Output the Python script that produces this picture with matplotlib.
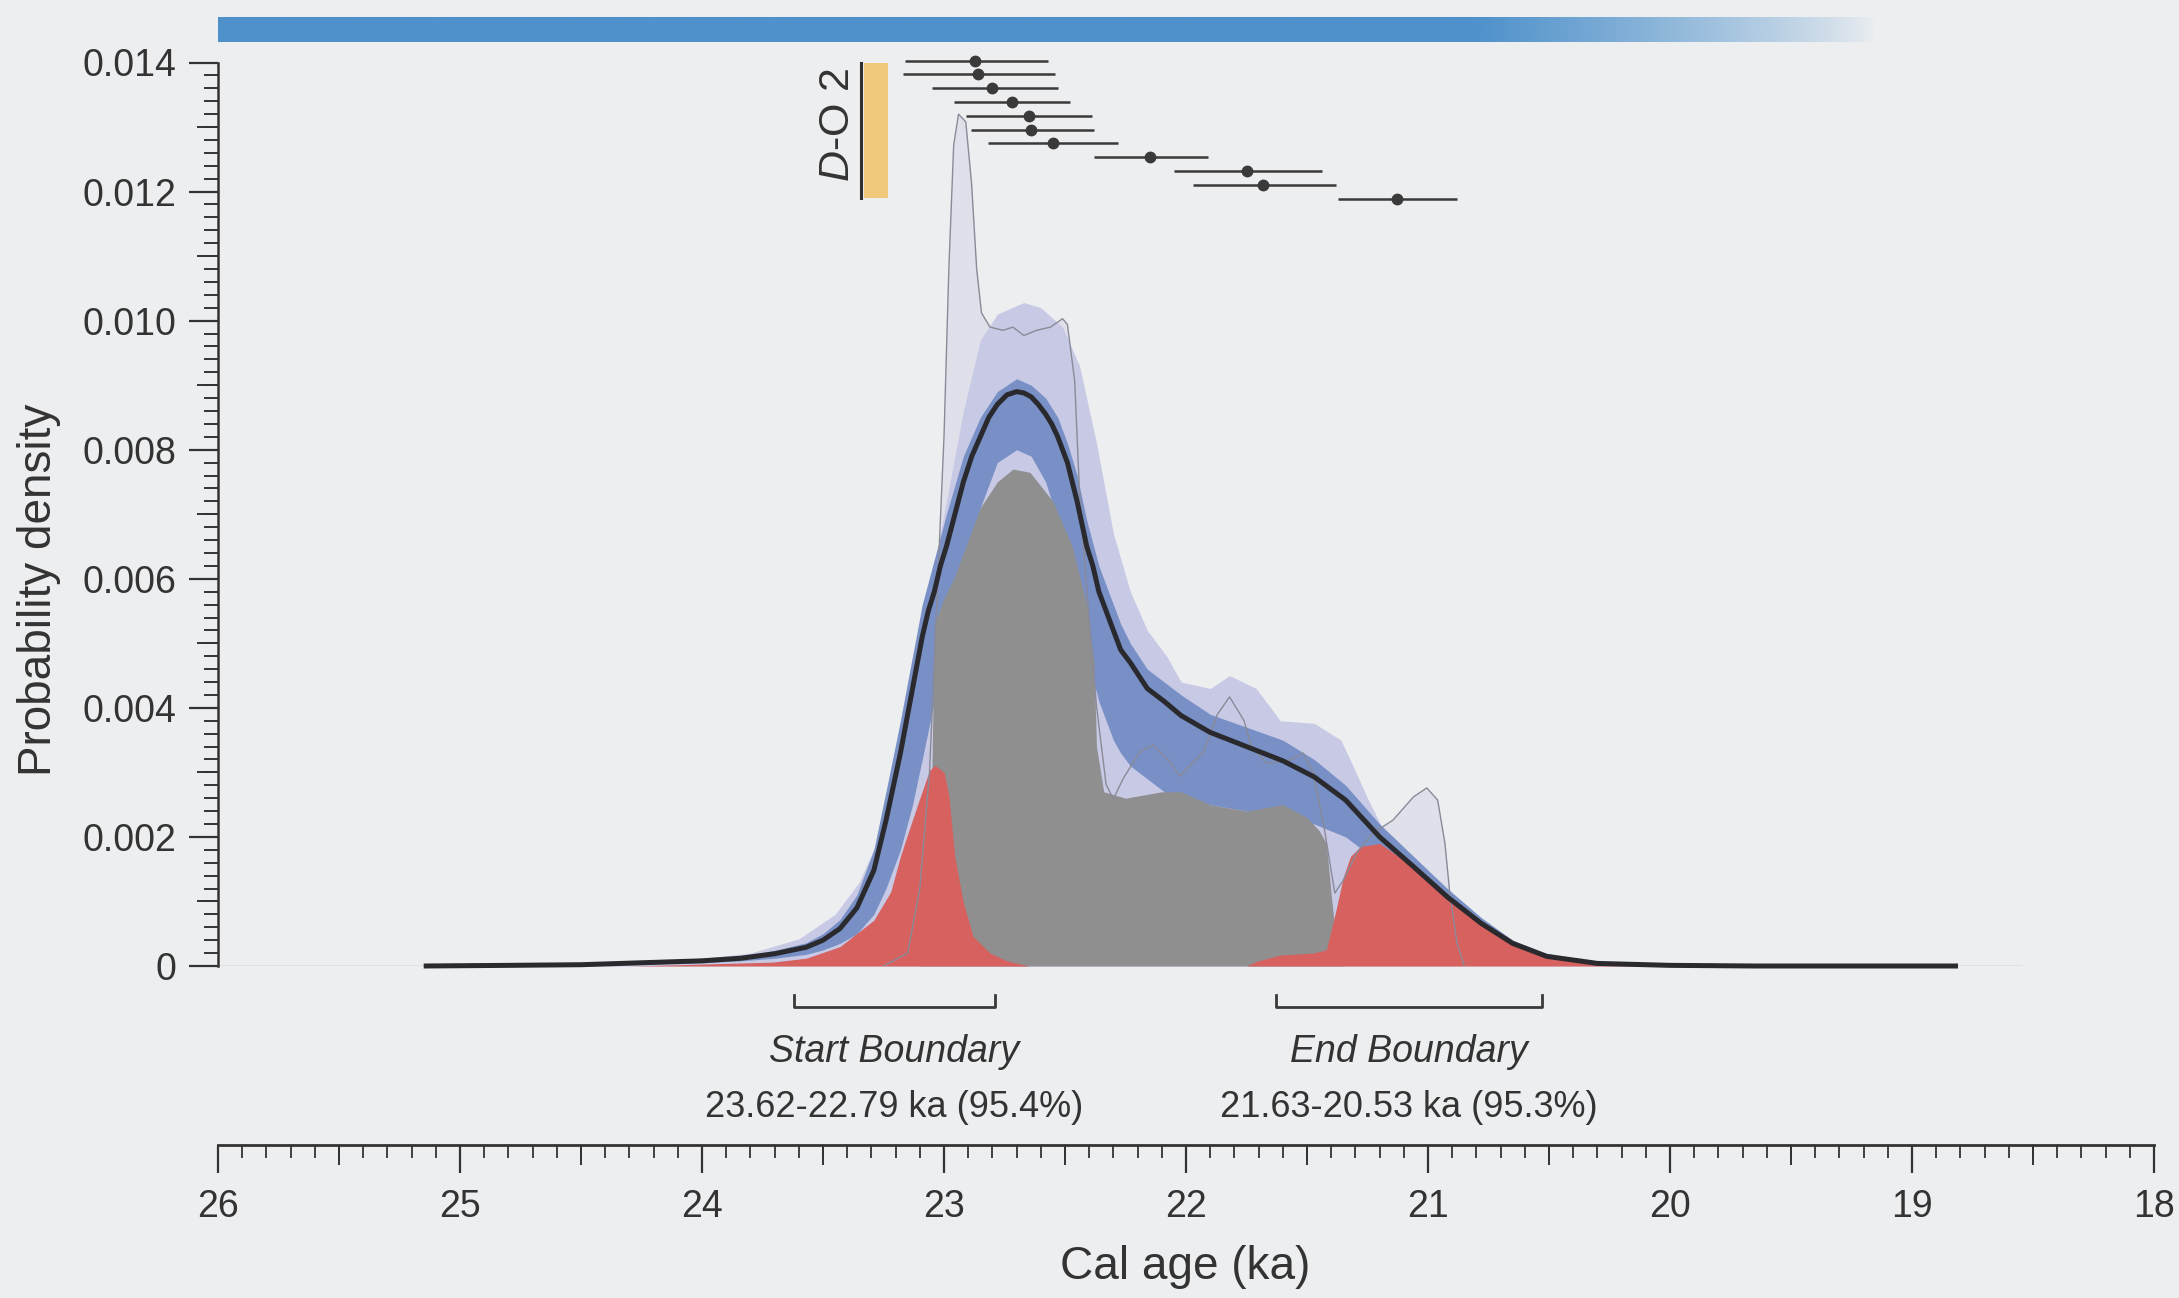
import numpy as np
import matplotlib.pyplot as plt
from matplotlib.colors import to_rgb

plt.rcParams['font.family'] = ['Liberation Sans', 'DejaVu Sans']
plt.rcParams['mathtext.fontset'] = 'custom'
plt.rcParams['mathtext.it'] = 'Liberation Sans:italic'
plt.rcParams['mathtext.rm'] = 'Liberation Sans'

# KDE model: mean curve and 1-sigma band (cal ka BP, probability density)
mean_age = [25.15, 24.8, 24.5, 24.25, 24.0, 23.84, 23.7, 23.57, 23.5, 23.43, 23.36, 23.29,
            23.24, 23.18, 23.13, 23.09, 23.065, 23.04, 23.015, 22.99, 22.955, 22.92, 22.885,
            22.85, 22.815, 22.78, 22.74, 22.70, 22.67, 22.64, 22.61, 22.58, 22.555, 22.53,
            22.51, 22.49, 22.47, 22.45, 22.43, 22.41, 22.385, 22.36, 22.33, 22.30, 22.27,
            22.23, 22.195, 22.16, 22.125, 22.09, 22.02, 21.90, 21.75, 21.60, 21.47, 21.34,
            21.20, 21.06, 20.92, 20.78, 20.65, 20.51, 20.30, 20.0, 19.65, 18.81]
mean_dens = [0, 0.00001, 0.00002, 0.00005, 0.00008, 0.00012, 0.00019, 0.00029, 0.0004,
             0.00058, 0.0009, 0.00148, 0.00225, 0.0033, 0.0043, 0.0051,
             0.0055, 0.0058, 0.0062, 0.0065, 0.0070, 0.0075, 0.0079, 0.0082, 0.0085, 0.0087,
             0.00885, 0.0089, 0.00888, 0.00882, 0.0087, 0.00855, 0.0084, 0.0082, 0.0080,
             0.0078, 0.0075, 0.0072, 0.00685, 0.0065, 0.0062, 0.0058, 0.0055, 0.0052, 0.0049,
             0.0047, 0.0045, 0.0043, 0.0042, 0.0041,
             0.00388, 0.00362, 0.0034, 0.00318, 0.00293, 0.00257, 0.0020, 0.00154, 0.00107,
             0.00066, 0.00035, 0.00015, 0.00004, 0.00001, 0, 0]
band_lo = [0, 0, 0.00001, 0.00003, 0.00005, 0.00008, 0.00012, 0.00018, 0.00025, 0.00035,
           0.0005, 0.0008, 0.0012, 0.0018, 0.0025, 0.0032,
           0.00365, 0.0041, 0.00455, 0.0050, 0.0056, 0.0062, 0.00665, 0.0071, 0.00745, 0.0078,
           0.0079, 0.0080, 0.00795, 0.0079, 0.0077, 0.0075, 0.0072, 0.0069, 0.0066, 0.0063,
           0.00595, 0.0056, 0.0052, 0.0048, 0.00445, 0.0041, 0.0038, 0.0035, 0.0033, 0.0031,
           0.0030, 0.0029, 0.0028, 0.0027,
           0.0026, 0.0025, 0.0024, 0.0023, 0.0022, 0.0020, 0.0016, 0.0012, 0.0008, 0.00048,
           0.00024, 0.0001, 0.00002, 0, 0, 0]
band_hi = [0, 0.00001, 0.00003, 0.00006, 0.0001, 0.00015, 0.00024, 0.00036, 0.0005, 0.00072,
           0.0011, 0.0018, 0.0027, 0.0038, 0.0048, 0.0056,
           0.00595, 0.0063, 0.00665, 0.0070, 0.00745, 0.0079, 0.0082, 0.0085, 0.0087, 0.0089,
           0.0090, 0.0091, 0.00905, 0.0090, 0.0089, 0.0088, 0.00865, 0.0085, 0.0083, 0.0081,
           0.00785, 0.0076, 0.00725, 0.0069, 0.00655, 0.0062, 0.0059, 0.0056, 0.0053, 0.0050,
           0.0048, 0.0046, 0.0045, 0.0044,
           0.0042, 0.0039, 0.0037, 0.0035, 0.0032, 0.0028, 0.0022, 0.0017, 0.0012, 0.00075,
           0.0004, 0.00018, 0.00005, 0.00001, 0, 0]

# 95% envelope (upper edge)
env_age = [25.0, 24.5, 24.0, 23.8, 23.6, 23.45, 23.35, 23.28, 23.22, 23.13, 23.06, 22.99,
           22.92, 22.85, 22.78, 22.72, 22.67, 22.60, 22.51, 22.44, 22.37, 22.30, 22.23,
           22.16, 22.08, 22.02, 21.90, 21.82, 21.71, 21.61, 21.47, 21.36, 21.31, 21.25,
           21.17, 21.06, 20.92, 20.78, 20.65, 20.51, 20.3, 20.0, 19.6]
env_hi = [0, 0.00003, 0.00012, 0.0002, 0.00042, 0.0008, 0.0013, 0.0019, 0.003, 0.0048,
          0.0058, 0.0072, 0.0086, 0.0097, 0.0101, 0.0102, 0.01028, 0.0102, 0.0099, 0.0093,
          0.0081, 0.0067, 0.0058, 0.0052, 0.0048, 0.0044, 0.0043, 0.0045, 0.0043, 0.0038,
          0.00376, 0.0035, 0.0031, 0.0026, 0.0020, 0.00164, 0.00113, 0.00071, 0.0004,
          0.0002, 0.00006, 0.00001, 0]

# summed probability (thin outline)
sum_age = [23.25, 23.15, 23.10, 23.06, 23.03, 23.00, 22.98, 22.96, 22.94, 22.91, 22.886,
           22.865, 22.845, 22.81, 22.756, 22.715, 22.67, 22.617, 22.56, 22.51, 22.49, 22.46,
           22.44, 22.405, 22.37, 22.33, 22.30, 22.26, 22.19, 22.135, 22.066, 22.025, 21.97,
           21.93, 21.87, 21.82, 21.76, 21.73, 21.667, 21.57, 21.516, 21.475, 21.43, 21.385,
           21.35, 21.295, 21.227, 21.145, 21.06, 21.005, 20.96, 20.93, 20.91, 20.88, 20.85]
sum_dens = [0, 0.0002, 0.0012, 0.003, 0.0056, 0.0082, 0.0108, 0.01272, 0.0132, 0.01308,
            0.01212, 0.0108, 0.01012, 0.0099, 0.00985, 0.0099, 0.00977, 0.00985, 0.0099,
            0.01003, 0.00994, 0.00907, 0.00733, 0.0056, 0.00403, 0.00281, 0.00259, 0.0029,
            0.00333, 0.00342, 0.00316, 0.00294, 0.00316, 0.0033, 0.0039, 0.00417, 0.0038,
            0.0034, 0.00314, 0.00319, 0.0033, 0.003, 0.00216, 0.00113, 0.00133, 0.00175,
            0.00206, 0.00226, 0.00262, 0.00276, 0.00257, 0.0019, 0.00113, 0.00035, 0]

# gray distribution
gray_age = [23.10, 23.06, 23.05, 23.04, 23.00, 22.96, 22.90, 22.85, 22.78, 22.715, 22.645,
            22.55, 22.47, 22.41, 22.38, 22.37, 22.34, 22.25, 22.10, 22.02, 21.90, 21.75,
            21.60, 21.50, 21.45, 21.42, 21.40, 21.38, 21.35]
gray_dens = [0, 0.0008, 0.003, 0.0053, 0.0057, 0.006, 0.0066, 0.0071, 0.0075, 0.0077,
             0.00765, 0.0072, 0.0065, 0.0056, 0.0047, 0.0034, 0.0027, 0.0026, 0.0027,
             0.0027, 0.0025, 0.0024, 0.0025, 0.0023, 0.0021, 0.0019, 0.0011, 0.0004, 0]

# boundaries
start_age = [24.3, 24.0, 23.71, 23.57, 23.43, 23.29, 23.22, 23.18, 23.154, 23.10, 23.06,
             23.037, 23.0, 22.98, 22.955, 22.92, 22.88, 22.81, 22.74, 22.65]
start_dens = [0, 0.00003, 0.00006, 0.00012, 0.0003, 0.00071, 0.00115, 0.0017, 0.002, 0.0026,
              0.00303, 0.00311, 0.003, 0.00264, 0.00168, 0.00098, 0.00046, 0.0002, 0.00008, 0]
end_age = [21.75, 21.71, 21.61, 21.475, 21.42, 21.38, 21.35, 21.32, 21.28, 21.20, 21.06,
           20.92, 20.78, 20.65, 20.51, 20.37, 20.24, 20.0, 19.8]
end_dens = [0, 0.00007, 0.00017, 0.0002, 0.00025, 0.00087, 0.00138, 0.0017, 0.00185, 0.0019,
            0.00154, 0.00107, 0.00066, 0.00035, 0.00015, 0.00007, 0.00002, 0.00001, 0]
start_range = (23.62, 22.79)
end_range = (21.63, 20.53)
start_text = ['Start Boundary', '23.62-22.79 ka (95.4%)']
end_text = ['End Boundary', '21.63-20.53 ka (95.3%)']

# individual dates (median, older, younger)
date_mid = [22.87, 22.86, 22.80, 22.72, 22.65, 22.64, 22.55, 22.15, 21.75, 21.68, 21.13]
date_old = [23.16, 23.17, 23.05, 22.96, 22.91, 22.89, 22.82, 22.38, 22.05, 21.97, 21.37]
date_young = [22.57, 22.54, 22.53, 22.48, 22.39, 22.38, 22.28, 21.91, 21.44, 21.38, 20.88]

do2_span = (23.33, 23.23)

xticks = list(range(18, 27))
yticks = [0, 0.002, 0.004, 0.006, 0.008, 0.010, 0.012, 0.014]

paper = '#eceef0'
ink = '#333333'

W, H = 2179, 1298
fig = plt.figure(figsize=(W / 100, H / 100), dpi=100, facecolor=paper)

left = 218 / W
width = (2154 - 218) / W
ytop = 0.0149
px_per_unit = (966 - 62.5) / 0.014
ax = fig.add_axes([left, (H - 966) / H, width, ytop * px_per_unit / H])
ax.patch.set_alpha(0)
ax.set_xlim(26, 18)
ax.set_ylim(0, ytop)

# top bar (fades out to the right)
n = 600
bar_ages = np.linspace(26, 19.1, n)
rgba = np.zeros((1, n, 4))
rgba[0, :, :3] = to_rgb('#4e91cb')
rgba[0, :, 3] = np.clip((bar_ages - 19.15) / (20.8 - 19.15), 0, 1) ** 0.8
ax.imshow(rgba, extent=(26, 19.1, 0.01432, 0.01470), aspect='auto', zorder=1)

ax.axhline(0, xmin=0, xmax=(26 - 18.55) / 8, color='#8a8a8a', lw=0.9, zorder=1)

ax.fill_between(sum_age, 0, sum_dens, color='#dfe0ea', lw=0, zorder=2)
ax.fill_between(env_age, 0, env_hi, color='#c7c9e5', lw=0, zorder=3)
ax.fill_between(mean_age, band_lo, band_hi, color='#7890c6', lw=0, zorder=4)
ax.fill_between(gray_age, 0, gray_dens, color='#8f8f90', lw=0, zorder=5)
ax.fill_between(start_age, 0, start_dens, color='#d6615f', lw=0, zorder=6)
ax.fill_between(end_age, 0, end_dens, color='#d6615f', lw=0, zorder=6)
ax.plot(sum_age, sum_dens, color='#8a8a98', lw=1.0, zorder=7)
ax.plot(mean_age, mean_dens, color='#2a2a2e', lw=3.6, zorder=8, clip_on=False,
        solid_capstyle='butt', solid_joinstyle='round')

# dated samples
rows = [0.01403 - 0.000214 * i for i in range(len(date_mid))]
err = [np.subtract(date_mid, date_young), np.subtract(date_old, date_mid)]
ax.errorbar(date_mid, rows, xerr=err, fmt='o', color='#3a3a3a', ms=7.5, elinewidth=1.8,
            capsize=0, zorder=9)

# D-O 2
ax.fill_between(do2_span, 0.0119, 0.0140, color='#efc879', lw=0, zorder=9)
ax.plot([do2_span[0] + 0.012] * 2, [0.0119, 0.0140], color='#2f2f2f', lw=2.2, zorder=9)
ax.text(23.44, 0.01303, r'$\it{D}$-O 2', rotation=90, ha='center', va='center',
        fontsize=31, color=ink, zorder=9)

# boundary brackets
for rng, txt in [(start_range, start_text), (end_range, end_text)]:
    ax.plot([rng[0], rng[0], rng[1], rng[1]], [-0.00045, -0.00064, -0.00064, -0.00045],
            color='#3a3a3a', lw=2, clip_on=False)
    xc = (rng[0] + rng[1]) / 2
    ax.text(xc, -0.00133, txt[0], ha='center', va='center', fontsize=27,
            style='italic', color=ink)
    ax.text(xc, -0.00219, txt[1], ha='center', va='center', fontsize=26, color=ink)

# y axis
for s in ['top', 'right', 'bottom']:
    ax.spines[s].set_visible(False)
ax.spines['left'].set_bounds(0, 0.014)
ax.spines['left'].set_linewidth(1.8)
ax.spines['left'].set_color('#333333')
ax.set_xticks([])
ax.set_yticks(yticks)
ax.set_yticklabels(['0' if v == 0 else f'{v:.3f}' for v in yticks])
ax.set_yticks(np.arange(0, 0.01401, 0.0002), minor=True)
ax.tick_params(axis='y', which='major', length=21, width=1.6, pad=9, labelsize=27,
               colors='#333333')
ax.tick_params(axis='y', which='minor', length=10, width=1.4, colors='#333333')

ay = fig.add_axes(ax.get_position(), frameon=False)
ay.set_ylim(0, ytop)
ay.set_xticks([])
ay.set_yticks(np.arange(0.001, 0.0140, 0.002))
ay.set_yticklabels([])
ay.tick_params(axis='y', length=15, width=1.4, colors='#333333')

# x axis (separate, below)
xb = (H - 1145) / H
ax2 = fig.add_axes([left, xb, width, 0.04])
ax2.patch.set_alpha(0)
ax2.set_xlim(26, 18)
ax2.set_yticks([])
for s in ['top', 'right', 'left']:
    ax2.spines[s].set_visible(False)
ax2.spines['bottom'].set_linewidth(2)
ax2.spines['bottom'].set_color('#333333')
ax2.set_xticks(xticks)
ax2.set_xticks(np.arange(18, 26.01, 0.1), minor=True)
ax2.tick_params(axis='x', which='major', length=20, width=1.6, pad=12, labelsize=27,
                colors='#333333')
ax2.tick_params(axis='x', which='minor', length=9.4, width=1.3, colors='#333333')

ax3 = fig.add_axes([left, xb, width, 0.04], frameon=False)
ax3.set_xlim(26, 18)
ax3.set_yticks([])
ax3.set_xticks(np.arange(18.5, 26, 1.0))
ax3.set_xticklabels([])
ax3.tick_params(axis='x', length=14.4, width=1.4, colors='#333333')

fig.text(1185 / W, 1 - 1267 / H, 'Cal age (ka)', ha='center', va='center', fontsize=33,
         color=ink)
fig.text(39 / W, 1 - 590 / H, 'Probability density', ha='center', va='center',
         rotation=90, fontsize=33, color=ink)

fig.savefig('out.png', dpi=100, facecolor=paper)
